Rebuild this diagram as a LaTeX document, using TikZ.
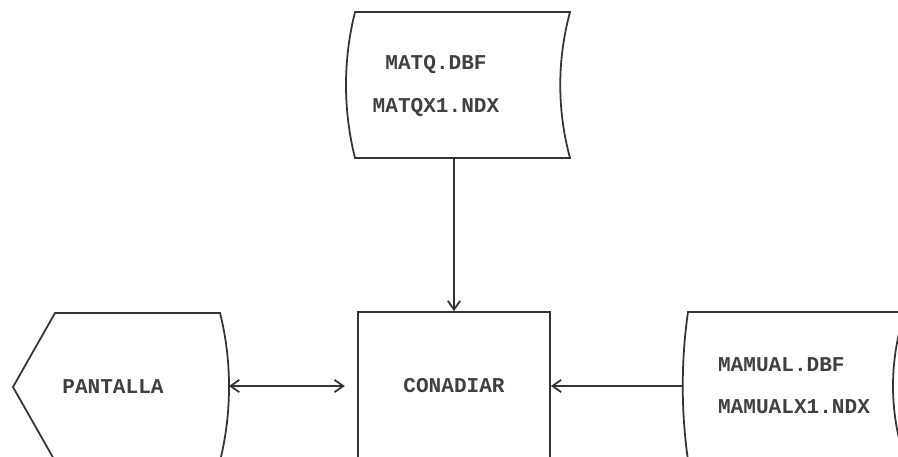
\documentclass[tikz,border=0pt]{standalone}
\usepackage{fontspec}
\setmonofont{Liberation Mono}
\usetikzlibrary{arrows.meta}
\usetikzlibrary{calc}

\begin{document}
\begin{tikzpicture}[x=0.2mm, y=-0.2mm, line width=1pt, color=black!80,
		texto/.style={font=\ttfamily\bfseries\fontsize{12}{24}\selectfont, text=black!75, inner sep=0pt},
		flecha/.style={-{Straight Barb[length=5pt,width=7pt]}},
		doble/.style={{Straight Barb[length=5pt,width=7pt]}-{Straight Barb[length=5pt,width=7pt]}}]
			\useasboundingbox (0,0) rectangle (898,456);
			
			%archivo MATQ
			\draw (355,12) -- (570,12) .. controls (557,60) and (557,110) .. (570,158) -- (355,158) .. controls (343,110) and (343,60) .. (355,12) -- cycle;
			\node[texto, align=center] (matq) at (436,86) {MATQ.DBF\\MATQX1.NDX};
			\coordinate (matq-sal) at (455,158);
			
			%archivo MAMUAL
			\draw (688,312) -- (905,312) .. controls (889,360) and (889,412) .. (905,460) -- (688,460) .. controls (681,412) and (681,360) .. (688,312) -- cycle;
			\node[texto, align=left] (mamual) at (794,386) {MAMUAL.DBF\\MAMUALX1.NDX};
			\coordinate (mamual-izq) at (683,386);
			
			%pantalla
			\draw (55,313) -- (220,313) .. controls (232,360) and (232,413) .. (220,461) -- (55,461) -- (13,387) -- cycle;
			\node[texto] (pantalla) at (113,387) {PANTALLA};
			\coordinate (pant-der) at (229,386);
			
			%programa
			\node[draw, texto, minimum width=38.4mm, minimum height=29.6mm] (conadiar) at (454,386) {CONADIAR};
			
			% add arrow
			\draw[flecha] (conadiar.north |- matq-sal) -- (conadiar.north);
			\draw[doble, shorten >=7pt] (pant-der) -- (conadiar.west);
			\draw[flecha] (mamual-izq) -- (conadiar.east);
			
		\end{tikzpicture}
\end{document}
